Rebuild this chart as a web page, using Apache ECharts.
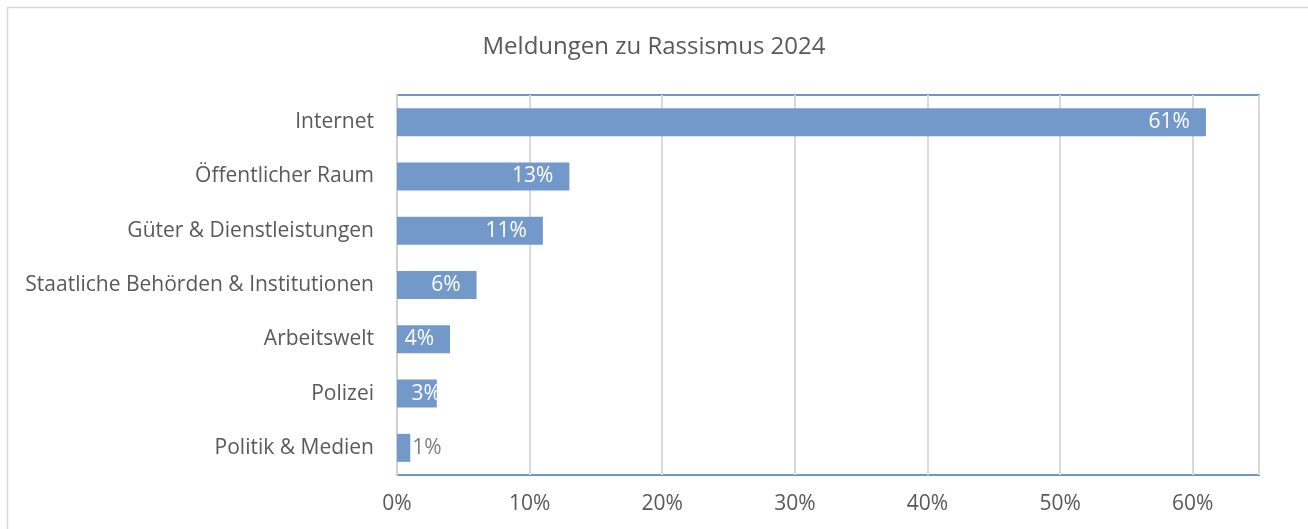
<!DOCTYPE html>
<html>
<head>
<meta charset="utf-8">
<script src="https://cdn.jsdelivr.net/npm/echarts@6/dist/echarts.min.js"></script>
<style>
  html, body { margin: 0; padding: 0; background: #fff; }
  #chart { width: 1308px; height: 529px; }
</style>
</head>
<body>
<div id="chart"></div>
<script>
const categories = ['Internet', 'Öffentlicher Raum', 'Güter & Dienstleistungen',
  'Staatliche Behörden & Institutionen', 'Arbeitswelt', 'Polizei', 'Politik & Medien'];
const shares = [61, 13, 11, 6, 4, 3, 1];
const xTicks = [0, 10, 20, 30, 40, 50, 60];

const font = '"Open Sans", Lato, sans-serif';
const textGrey = '#595959';
const barBlue = '#7399cb';

const chart = echarts.init(document.getElementById('chart'));

const barData = shares.map((v, i) => {
  const item = { value: v };
  if (v < 2) {
    item.label = { position: 'right', color: '#7f7f7f', distance: 2 };
  } else if (v < 4) {
    item.label = { offset: [20, 0] };
  }
  return item;
});

chart.setOption({
  animation: false,
  title: {
    text: 'Meldungen zu Rassismus 2024',
    left: 'center',
    top: 30,
    textStyle: { fontFamily: font, fontSize: 24, fontWeight: 'normal', color: textGrey }
  },
  graphic: [{
    type: 'rect',
    shape: { x: 7.5, y: 7.5, width: 1400, height: 600 },
    style: { fill: 'none', stroke: '#d9d9d9', lineWidth: 1.5 },
    silent: true
  }],
  grid: {
    left: 397, right: 49, top: 95, bottom: 54,
    show: true, borderColor: '#7096c8', borderWidth: 2
  },
  xAxis: {
    type: 'value',
    min: 0, max: 65, interval: 10,
    axisLine: { show: false },
    axisTick: { show: false },
    axisLabel: {
      showMaxLabel: false,
      margin: 19,
      fontFamily: font, fontSize: 21, color: textGrey,
      formatter: v => xTicks.includes(v) ? v + '%' : ''
    },
    splitLine: { lineStyle: { color: '#d9d9d9', width: 2 } }
  },
  yAxis: {
    type: 'category',
    inverse: true,
    data: categories,
    axisLine: { show: true, lineStyle: { color: '#d0d0d0', width: 2 } },
    axisTick: { show: false },
    axisLabel: { margin: 23, fontFamily: font, fontSize: 21, color: textGrey }
  },
  series: [{
    type: 'bar',
    data: barData,
    barWidth: 28,
    itemStyle: { color: barBlue },
    label: {
      show: true,
      position: 'insideRight',
      distance: 16,
      color: '#fff',
      fontFamily: font,
      fontSize: 21,
      formatter: p => p.value + '%'
    }
  }]
});
</script>
</body>
</html>
